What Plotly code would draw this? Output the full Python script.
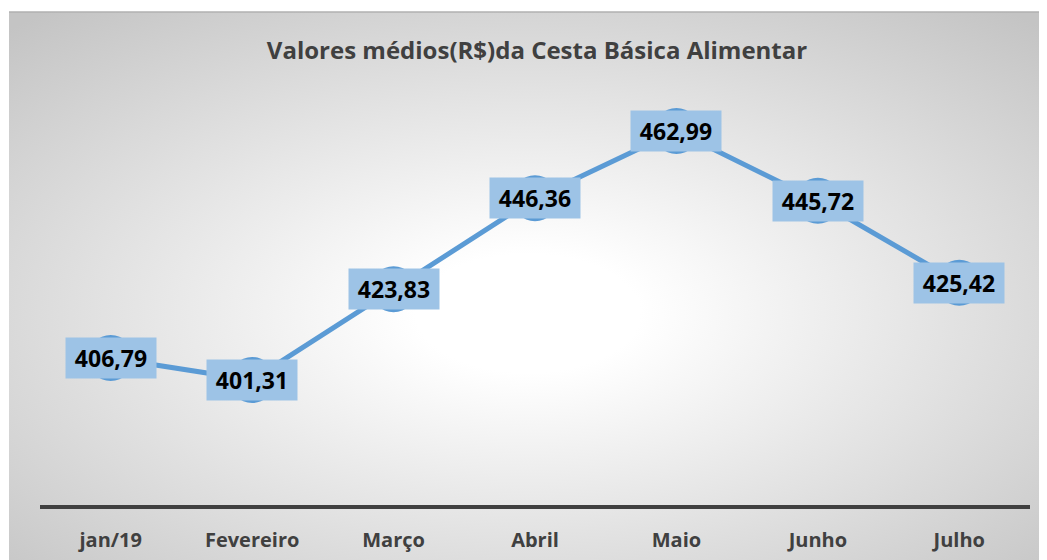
import base64
import plotly.graph_objects as go

categories = ["jan/19", "Fevereiro", "Março", "Abril", "Maio", "Junho", "Julho"]
values = [406.79, 401.31, 423.83, 446.36, 462.99, 445.72, 425.42]
value_labels = ["406,79", "401,31", "423,83", "446,36", "462,99", "445,72", "425,42"]
title_text = "Valores médios(R$)da Cesta Básica Alimentar"

FONT = "Open Sans"
LINE_BLUE = "#5b9bd5"
BOX_BLUE = "#9dc3e6"

# page body has an 8px margin; figure is sized to fill the rest of the window
OFF = 8
W, H = 1047 - OFF, 560 - OFF
L, T = 40 - OFF, 61 - OFF
pw, ph = 990, 444
R = W - L - pw
B = H - T - ph

cw, ch = 1047 - 9, 560 - 12
svg = (
    f'<svg xmlns="http://www.w3.org/2000/svg" width="{cw}" height="{ch}" '
    f'viewBox="0 0 {cw} {ch}" preserveAspectRatio="none">'
    '<defs><radialGradient id="g" cx="0.5" cy="0.55" r="0.72" fx="0.5" fy="0.55">'
    '<stop offset="0" stop-color="#ffffff"/>'
    '<stop offset="0.15" stop-color="#ffffff"/>'
    '<stop offset="1" stop-color="#c4c4c4"/>'
    '</radialGradient></defs>'
    f'<rect x="0" y="0" width="{cw}" height="{ch}" fill="url(#g)"/>'
    '</svg>'
)
svg_uri = "data:image/svg+xml;base64," + base64.b64encode(svg.encode()).decode()

fig = go.Figure()
fig.add_trace(go.Scatter(
    x=categories, y=values, mode="lines+markers",
    line=dict(color=LINE_BLUE, width=5),
    marker=dict(color=LINE_BLUE, size=46),
    hoverinfo="skip", showlegend=False,
))

for c, v, t in zip(categories, values, value_labels):
    fig.add_annotation(
        x=c, y=v, text="<b>" + t + "</b>", showarrow=False,
        xanchor="center", yanchor="middle",
        bgcolor=BOX_BLUE, width=90, height=40, borderpad=0,
        font=dict(family=FONT, size=23, color="#000000"),
    )

# chart-area background (screen x 9..1047, y 12..560)
x0 = (9 - 40) / pw
x1 = (1047 - 40) / pw
y_top = (505 - 12) / ph
y_bot = (505 - 560) / ph

fig.add_layout_image(dict(
    source=svg_uri, xref="paper", yref="paper",
    x=x0, y=y_top, sizex=x1 - x0, sizey=y_top - y_bot,
    xanchor="left", yanchor="top", sizing="stretch", layer="below",
))
fig.add_shape(type="line", xref="paper", yref="paper",
              x0=x0, x1=x1, y0=y_top, y1=y_top,
              line=dict(color="#b0b0b0", width=1.5))

fig.update_layout(
    width=W, height=H,
    margin=dict(l=L, r=R, t=T, b=B, autoexpand=False),
    paper_bgcolor="#ffffff", plot_bgcolor="rgba(0,0,0,0)",
    title=dict(text="<b>" + title_text + "</b>", x=(537 - 40) / pw, xref="paper",
               xanchor="center", y=1 - (51 - OFF) / H, yref="container", yanchor="middle",
               font=dict(family=FONT, size=24, color="#404040")),
    xaxis=dict(type="category", range=[-0.5, 6.5], showline=True, automargin=False,
               linecolor="#404040", linewidth=4, showgrid=False, zeroline=False,
               ticks="", ticklabelstandoff=14,
               tickfont=dict(family=FONT, size=20, color="#404040")),
    yaxis=dict(range=[370.35, 480.35], visible=False, showgrid=False, zeroline=False,
               automargin=False),
)
fig.update_xaxes(tickvals=categories, ticktext=["<b>" + c + "</b>" for c in categories])

fig.write_html("out.html")
